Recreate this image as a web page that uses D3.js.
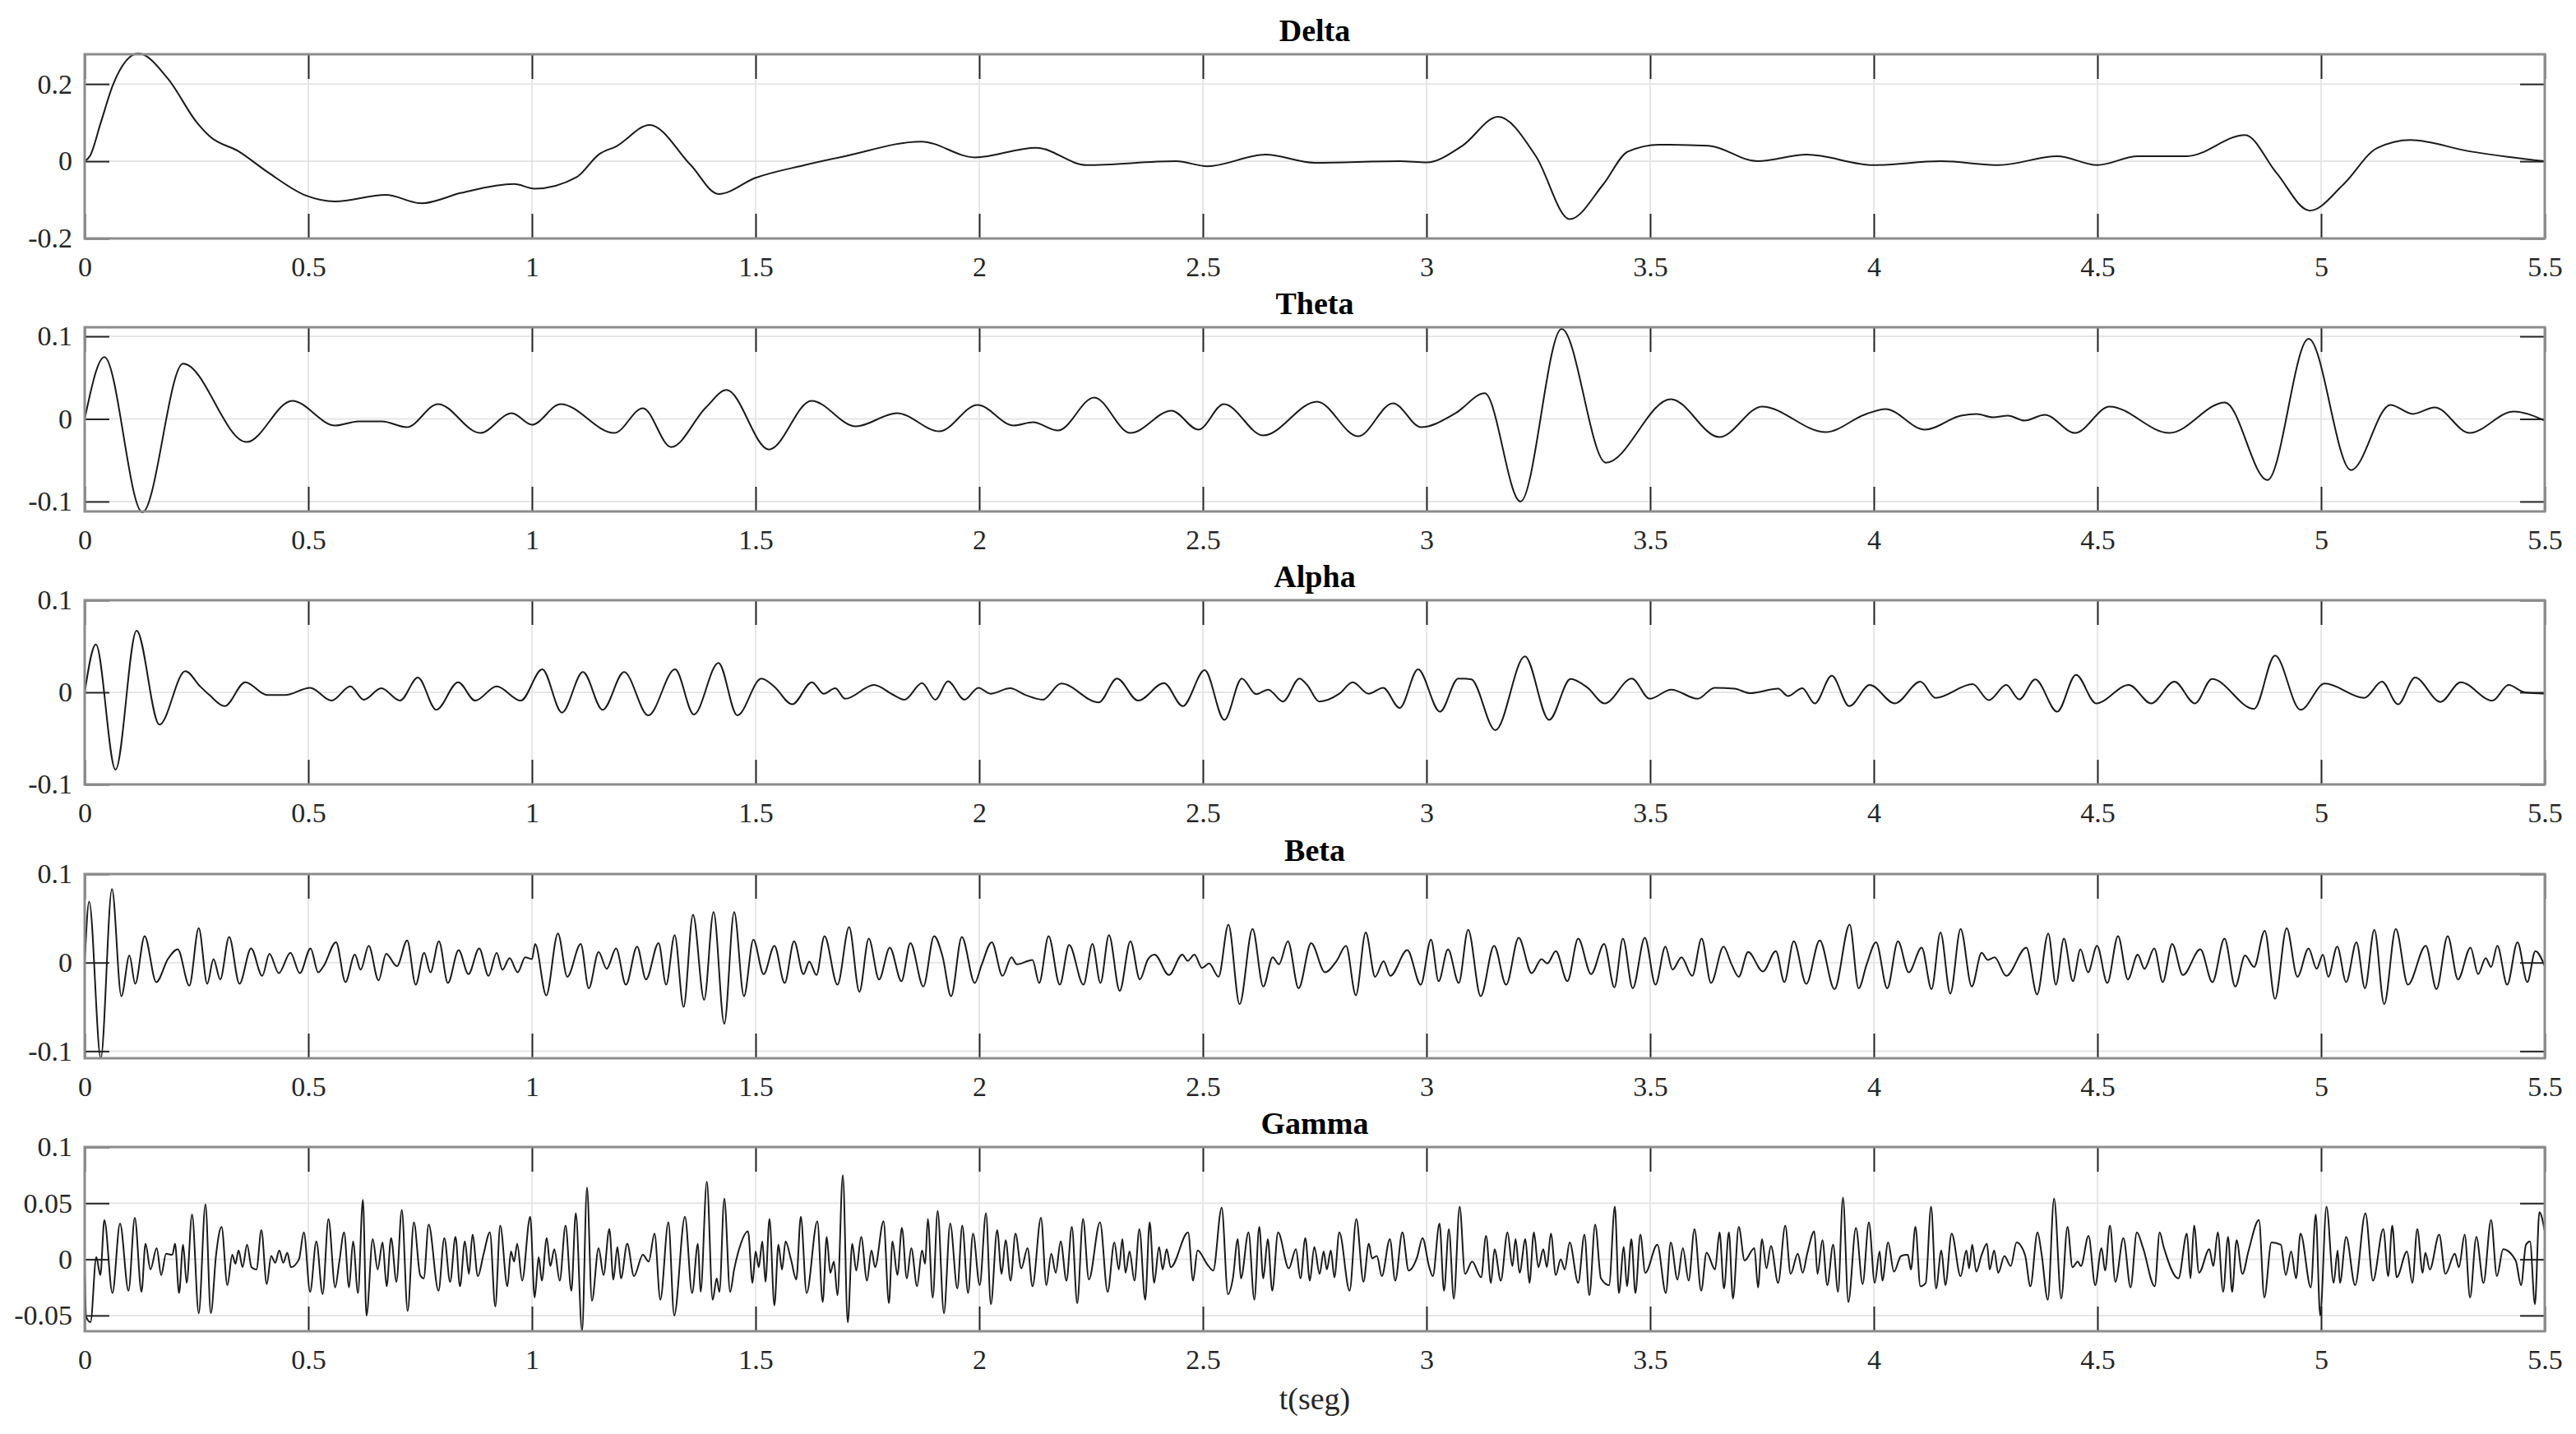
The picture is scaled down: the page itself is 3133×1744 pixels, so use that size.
<!DOCTYPE html>
<html>
<head>
<meta charset="utf-8">
<script src="https://cdn.jsdelivr.net/npm/d3@7"></script>
<style>
  body { margin: 0; background: #fff; }
  svg { display: block; }
  .tick text { font-family: "Liberation Serif", "Times New Roman", serif; font-size: 34px; fill: #262626; }
  .title { font-family: "Liberation Serif", "Times New Roman", serif; font-size: 38px; font-weight: bold; fill: #000; }
  .xlabel { font-family: "Liberation Serif", "Times New Roman", serif; font-size: 38px; fill: #262626; }
</style>
</head>
<body>
<div id="chart"></div>
<script>
// band names and axis limits
const bandNames = ['Delta', 'Theta', 'Alpha', 'Beta', 'Gamma'];
const xDomain = [0, 5.5];
const xTicks = [0, 0.5, 1, 1.5, 2, 2.5, 3, 3.5, 4, 4.5, 5, 5.5];
const yDomains = [[-0.2, 0.277], [-0.112, 0.111], [-0.1, 0.1], [-0.108, 0.1], [-0.064, 0.1]];
const yTicks = [[-0.2, 0, 0.2], [-0.1, 0, 0.1], [-0.1, 0, 0.1], [-0.1, 0, 0.1], [-0.05, 0, 0.05, 0.1]];

// [t (s), amplitude] at the turning points of each trace
const delta = [[0,0],[0.012,0.014],[0.036,0.1],[0.064,0.2],[0.12,0.279],[0.186,0.214],[0.251,0.1],[0.28,0.064],[0.345,0.025],[0.41,-0.029],[0.495,-0.089],[0.56,-0.104],[0.673,-0.087],[0.753,-0.109],[0.842,-0.082],[0.96,-0.059],[1.006,-0.071],[1.1,-0.041],[1.15,0.018],[1.189,0.039],[1.263,0.094],[1.355,-0.01],[1.417,-0.085],[1.5,-0.043],[1.61,-0.01],[1.7,0.013],[1.87,0.051],[1.99,0.01],[2.127,0.035],[2.24,-0.01],[2.44,0],[2.51,-0.013],[2.64,0.017],[2.75,-0.004],[2.94,0],[3.0,-0.003],[3.08,0.04],[3.16,0.115],[3.245,0.012],[3.32,-0.15],[3.395,-0.06],[3.45,0.025],[3.52,0.043],[3.63,0.04],[3.74,0],[3.85,0.017],[4.0,-0.01],[4.15,0],[4.28,-0.01],[4.41,0.013],[4.5,-0.01],[4.59,0.013],[4.70,0.013],[4.83,0.068],[4.90,-0.03],[4.975,-0.128],[5.05,-0.06],[5.125,0.034],[5.2,0.055],[5.33,0.026],[5.5,0]];

const theta = [[0,0],[0.044,0.075],[0.129,-0.113],[0.22,0.067],[0.362,-0.028],[0.464,0.022],[0.56,-0.008],[0.612,-0.003],[0.665,-0.003],[0.72,-0.01],[0.79,0.018],[0.884,-0.017],[0.955,0.007],[1.0,-0.007],[1.064,0.018],[1.184,-0.017],[1.248,0.013],[1.311,-0.034],[1.389,0.014],[1.435,0.035],[1.53,-0.037],[1.625,0.022],[1.724,-0.009],[1.816,0.007],[1.911,-0.015],[1.996,0.017],[2.077,-0.008],[2.12,-0.004],[2.176,-0.014],[2.257,0.026],[2.338,-0.017],[2.43,0.01],[2.49,-0.013],[2.547,0.018],[2.635,-0.02],[2.755,0.021],[2.847,-0.021],[2.925,0.019],[2.988,-0.01],[3.065,0.007],[3.13,0.031],[3.21,-0.1],[3.302,0.109],[3.401,-0.053],[3.546,0.024],[3.655,-0.022],[3.75,0.015],[3.892,-0.016],[3.983,0.006],[4.026,0.012],[4.114,-0.013],[4.195,0.004],[4.23,0.006],[4.266,0.002],[4.3,0.004],[4.337,-0.002],[4.382,0.005],[4.45,-0.017],[4.527,0.015],[4.661,-0.017],[4.785,0.02],[4.88,-0.074],[4.972,0.097],[5.067,-0.062],[5.155,0.017],[5.205,0.006],[5.254,0.014],[5.332,-0.017],[5.43,0.009],[5.5,-0.002]];

const alpha = [[0,0],[0.025,0.052],[0.069,-0.084],[0.116,0.067],[0.167,-0.035],[0.225,0.023],[0.258,0.0065],[0.279,-0.003],[0.313,-0.015],[0.359,0.011],[0.408,-0.003],[0.448,-0.003],[0.504,0.005],[0.552,-0.009],[0.594,0.0065],[0.624,-0.008],[0.663,0.0045],[0.705,-0.009],[0.745,0.016],[0.786,-0.019],[0.835,0.011],[0.873,-0.009],[0.921,0.0065],[0.975,-0.009],[1.023,0.025],[1.067,-0.022],[1.114,0.022],[1.158,-0.019],[1.206,0.022],[1.26,-0.025],[1.32,0.025],[1.362,-0.024],[1.417,0.032],[1.459,-0.025],[1.513,0.015],[1.541,0.0065],[1.582,-0.013],[1.626,0.011],[1.652,-0.0015],[1.678,0.0045],[1.7,-0.007],[1.765,0.008],[1.805,-0.002],[1.833,-0.008],[1.872,0.01],[1.902,-0.008],[1.93,0.012],[1.967,-0.008],[1.998,0.005],[2.025,-0.0015],[2.069,0.0045],[2.104,-0.003],[2.142,-0.008],[2.183,0.0095],[2.267,-0.011],[2.308,0.015],[2.355,-0.009],[2.413,0.01],[2.455,-0.015],[2.504,0.024],[2.548,-0.03],[2.587,0.015],[2.619,-0.002],[2.646,0.003],[2.679,-0.01],[2.716,0.015],[2.733,0.008],[2.76,-0.01],[2.805,-0.0015],[2.835,0.011],[2.87,-0.0015],[2.903,0.005],[2.94,-0.017],[2.981,0.025],[3.03,-0.021],[3.071,0.015],[3.1,0.014],[3.154,-0.041],[3.22,0.039],[3.274,-0.03],[3.322,0.0145],[3.36,0.005],[3.398,-0.012],[3.459,0.015],[3.499,-0.007],[3.547,0.003],[3.606,-0.007],[3.644,0.005],[3.688,0.004],[3.724,-0.001],[3.786,0.004],[3.808,-0.004],[3.84,0.0045],[3.868,-0.012],[3.906,0.018],[3.945,-0.015],[3.991,0.008],[4.047,-0.012],[4.104,0.0115],[4.138,-0.006],[4.221,0.009],[4.257,-0.0085],[4.296,0.008],[4.325,-0.0077],[4.361,0.014],[4.41,-0.021],[4.452,0.019],[4.497,-0.012],[4.57,0.008],[4.62,-0.012],[4.672,0.0115],[4.718,-0.012],[4.756,0.0145],[4.85,-0.018],[4.897,0.04],[4.954,-0.019],[5.008,0.0095],[5.097,-0.006],[5.136,0.0115],[5.172,-0.013],[5.21,0.016],[5.267,-0.0104],[5.312,0.011],[5.383,-0.009],[5.419,0.008],[5.455,0],[5.5,-0.0015]];

const beta = [[0,0],[0.01,0.069],[0.036,-0.108],[0.061,0.083],[0.082,-0.038],[0.1,0.008],[0.113,-0.024],[0.134,0.03],[0.16,-0.022],[0.186,0.004],[0.208,0.015],[0.234,-0.026],[0.255,0.039],[0.274,-0.024],[0.288,0.004],[0.303,-0.019],[0.323,0.029],[0.346,-0.024],[0.372,0.016],[0.397,-0.015],[0.413,0.01],[0.434,-0.012],[0.46,0.011],[0.481,-0.012],[0.505,0.016],[0.522,-0.011],[0.534,-0.004],[0.562,0.023],[0.583,-0.022],[0.604,0.009],[0.617,-0.008],[0.635,0.019],[0.657,-0.02],[0.674,0.01],[0.698,-0.004],[0.721,0.025],[0.74,-0.025],[0.759,0.011],[0.773,-0.011],[0.792,0.024],[0.812,-0.023],[0.836,0.014],[0.858,-0.013],[0.882,0.016],[0.903,-0.015],[0.921,0.011],[0.934,-0.008],[0.95,0.005],[0.968,-0.011],[0.985,0.006],[1.0,0.004],[1.007,0.021],[1.032,-0.037],[1.058,0.033],[1.079,-0.016],[1.109,0.021],[1.127,-0.029],[1.149,0.012],[1.167,-0.007],[1.188,0.016],[1.21,-0.025],[1.235,0.018],[1.255,-0.019],[1.283,0.022],[1.3,-0.025],[1.319,0.031],[1.339,-0.05],[1.36,0.054],[1.385,-0.042],[1.406,0.057],[1.43,-0.069],[1.452,0.057],[1.474,-0.038],[1.495,0.026],[1.518,-0.013],[1.542,0.019],[1.565,-0.023],[1.586,0.024],[1.607,-0.013],[1.62,0.001],[1.636,-0.014],[1.654,0.03],[1.683,-0.025],[1.709,0.04],[1.732,-0.033],[1.753,0.027],[1.776,-0.019],[1.8,0.017],[1.826,-0.021],[1.846,0.022],[1.875,-0.027],[1.899,0.03],[1.918,0.007],[1.937,-0.038],[1.961,0.029],[1.99,-0.023],[2.005,-0.003],[2.028,0.023],[2.052,-0.015],[2.072,0.006],[2.084,-0.002],[2.119,0.003],[2.134,-0.023],[2.155,0.03],[2.18,-0.025],[2.201,0.02],[2.233,-0.025],[2.253,0.021],[2.271,-0.023],[2.29,0.031],[2.314,-0.032],[2.338,0.024],[2.359,-0.019],[2.377,0.0035],[2.392,0.009],[2.424,-0.014],[2.454,0.009],[2.466,0.002],[2.481,0.009],[2.498,-0.006],[2.514,-0.001],[2.535,-0.016],[2.557,0.043],[2.582,-0.047],[2.611,0.038],[2.635,-0.027],[2.656,0.006],[2.67,-0.002],[2.69,0.024],[2.714,-0.029],[2.742,0.022],[2.773,-0.011],[2.799,0.002],[2.82,0.019],[2.842,-0.037],[2.864,0.034],[2.885,-0.016],[2.904,0.0015],[2.919,-0.015],[2.957,0.014],[2.987,-0.025],[3.01,0.026],[3.027,-0.021],[3.048,0.015],[3.072,-0.023],[3.093,0.037],[3.121,-0.038],[3.151,0.019],[3.178,-0.025],[3.206,0.028],[3.235,-0.012],[3.257,0.004],[3.27,-0.001],[3.289,0.013],[3.315,-0.021],[3.339,0.027],[3.368,-0.013],[3.397,0.021],[3.42,-0.028],[3.439,0.027],[3.461,-0.029],[3.488,0.028],[3.512,-0.025],[3.534,0.018],[3.55,-0.008],[3.57,0.006],[3.594,-0.015],[3.615,0.027],[3.636,-0.023],[3.664,0.018],[3.682,-0.002],[3.698,-0.016],[3.719,0.012],[3.752,-0.01],[3.781,0.013],[3.8,-0.022],[3.821,0.024],[3.849,-0.024],[3.879,0.025],[3.912,-0.03],[3.946,0.043],[3.966,-0.029],[3.984,-0.002],[4.005,0.023],[4.03,-0.029],[4.054,0.024],[4.078,-0.011],[4.107,0.017],[4.129,-0.03],[4.149,0.034],[4.171,-0.035],[4.194,0.038],[4.219,-0.027],[4.241,0.011],[4.255,0.003],[4.27,0.006],[4.296,-0.015],[4.341,0.017],[4.365,-0.036],[4.39,0.033],[4.407,-0.025],[4.425,0.027],[4.445,-0.021],[4.462,0.015],[4.479,-0.011],[4.499,0.019],[4.522,-0.023],[4.546,0.03],[4.568,-0.019],[4.59,0.009],[4.605,-0.007],[4.627,0.016],[4.646,-0.022],[4.667,0.021],[4.691,-0.014],[4.73,0.015],[4.757,-0.022],[4.784,0.027],[4.808,-0.027],[4.83,0.008],[4.85,-0.005],[4.874,0.036],[4.897,-0.041],[4.923,0.039],[4.947,-0.016],[4.972,0.016],[4.99,-0.007],[5.004,0.009],[5.016,-0.016],[5.036,0.018],[5.056,-0.022],[5.079,0.023],[5.098,-0.029],[5.119,0.037],[5.141,-0.047],[5.167,0.038],[5.194,-0.025],[5.234,0.019],[5.258,-0.03],[5.283,0.03],[5.306,-0.019],[5.334,0.017],[5.351,-0.013],[5.368,0.005],[5.38,-0.005],[5.394,0.019],[5.416,-0.025],[5.439,0.023],[5.461,-0.022],[5.479,0.013],[5.5,-0.004]];

const gamma = [[0,0],[0.003,-0.051],[0.013,-0.056],[0.026,0.002],[0.035,-0.014],[0.044,0.035],[0.062,-0.030],[0.079,0.032],[0.098,-0.028],[0.112,0.037],[0.127,-0.029],[0.136,0.014],[0.147,-0.009],[0.161,0.010],[0.171,-0.014],[0.182,0.005],[0.196,0.004],[0.202,0.014],[0.211,-0.030],[0.220,0.013],[0.228,-0.021],[0.240,0.040],[0.255,-0.048],[0.270,0.049],[0.282,-0.048],[0.294,0.005],[0.306,0.029],[0.319,-0.023],[0.330,0.004],[0.337,-0.004],[0.344,0.008],[0.353,-0.007],[0.363,0.013],[0.373,-0.007],[0.384,-0.009],[0.395,0.026],[0.407,-0.022],[0.417,0.003],[0.426,-0.003],[0.435,0.008],[0.444,-0.003],[0.453,0.006],[0.461,-0.007],[0.479,0.000],[0.490,0.024],[0.504,-0.029],[0.518,0.016],[0.532,-0.031],[0.545,0.036],[0.560,-0.025],[0.569,-0.003],[0.580,0.024],[0.591,-0.025],[0.600,0.016],[0.611,-0.030],[0.622,0.053],[0.630,-0.050],[0.644,0.018],[0.655,-0.009],[0.666,0.015],[0.675,-0.024],[0.685,0.019],[0.697,-0.020],[0.709,0.044],[0.722,-0.046],[0.736,0.033],[0.750,-0.014],[0.758,-0.017],[0.769,0.031],[0.791,-0.028],[0.804,0.019],[0.817,-0.020],[0.829,0.020],[0.839,-0.024],[0.850,0.016],[0.859,-0.013],[0.867,0.022],[0.879,-0.015],[0.892,0.005],[0.906,0.024],[0.918,-0.042],[0.929,0.030],[0.945,-0.024],[0.953,0.007],[0.960,-0.002],[0.967,0.014],[0.978,-0.019],[0.996,0.038],[1.006,-0.034],[1.015,0.002],[1.022,-0.019],[1.033,0.019],[1.041,-0.006],[1.050,0.009],[1.062,-0.019],[1.075,0.030],[1.088,-0.028],[1.098,0.041],[1.112,-0.064],[1.123,0.064],[1.134,-0.037],[1.149,0.010],[1.160,-0.014],[1.173,0.027],[1.182,-0.018],[1.191,0.011],[1.199,-0.017],[1.213,0.014],[1.228,-0.015],[1.248,0.004],[1.261,-0.002],[1.274,0.023],[1.287,-0.036],[1.305,0.033],[1.318,-0.050],[1.342,0.038],[1.358,-0.030],[1.371,0.014],[1.377,-0.029],[1.391,0.069],[1.404,-0.036],[1.413,-0.017],[1.419,-0.029],[1.430,0.054],[1.443,-0.029],[1.452,-0.009],[1.463,0.009],[1.483,0.025],[1.493,-0.021],[1.500,0.007],[1.507,-0.007],[1.515,0.016],[1.522,-0.020],[1.531,0.036],[1.542,-0.041],[1.551,0.013],[1.559,-0.009],[1.567,0.016],[1.579,0.000],[1.591,-0.018],[1.601,0.038],[1.614,-0.030],[1.638,0.034],[1.650,-0.038],[1.659,0.020],[1.667,-0.012],[1.675,-0.002],[1.683,-0.032],[1.695,0.075],[1.706,-0.056],[1.716,0.014],[1.725,-0.010],[1.736,0.020],[1.749,-0.019],[1.759,0.008],[1.767,-0.007],[1.786,0.034],[1.798,-0.039],[1.806,0.016],[1.817,-0.014],[1.827,0.028],[1.838,-0.017],[1.848,0.010],[1.861,-0.024],[1.872,0.008],[1.879,-0.004],[1.885,0.036],[1.896,-0.034],[1.907,0.043],[1.921,-0.048],[1.935,0.032],[1.951,-0.026],[1.962,0.030],[1.975,-0.030],[1.986,0.023],[2.001,-0.023],[2.015,0.041],[2.026,-0.040],[2.040,0.026],[2.050,-0.013],[2.059,0.017],[2.070,-0.019],[2.081,0.023],[2.094,-0.008],[2.108,0.010],[2.119,-0.024],[2.138,0.037],[2.150,-0.023],[2.161,0.005],[2.171,-0.012],[2.182,0.016],[2.195,-0.019],[2.207,0.029],[2.219,-0.039],[2.232,0.036],[2.245,-0.018],[2.270,0.033],[2.287,-0.029],[2.302,0.015],[2.312,-0.009],[2.320,0.018],[2.327,-0.012],[2.336,0.007],[2.347,-0.019],[2.358,0.027],[2.371,-0.036],[2.381,0.033],[2.391,-0.021],[2.402,0.011],[2.410,-0.009],[2.419,0.009],[2.428,-0.007],[2.467,0.024],[2.478,-0.019],[2.488,0.008],[2.509,-0.004],[2.523,-0.010],[2.542,0.046],[2.556,-0.031],[2.567,-0.017],[2.578,0.018],[2.585,-0.017],[2.602,0.024],[2.615,-0.036],[2.626,0.029],[2.635,-0.017],[2.645,0.018],[2.655,-0.028],[2.668,0.024],[2.692,-0.008],[2.708,0.009],[2.718,-0.017],[2.729,0.019],[2.739,-0.019],[2.749,0.011],[2.761,-0.013],[2.770,0.007],[2.777,-0.009],[2.786,0.008],[2.794,-0.016],[2.805,0.024],[2.828,-0.028],[2.843,0.036],[2.859,-0.020],[2.871,0.014],[2.878,0.001],[2.889,0.003],[2.900,-0.015],[2.918,0.018],[2.930,-0.019],[2.946,0.024],[2.960,-0.010],[2.979,0.002],[2.991,0.019],[3.006,-0.007],[3.014,-0.015],[3.029,0.032],[3.039,-0.028],[3.050,0.027],[3.061,-0.035],[3.074,0.047],[3.086,-0.013],[3.102,-0.002],[3.122,-0.016],[3.133,0.021],[3.144,-0.021],[3.152,0.009],[3.166,-0.019],[3.181,0.024],[3.192,-0.006],[3.199,0.018],[3.208,-0.012],[3.221,0.018],[3.230,-0.021],[3.240,0.024],[3.250,-0.007],[3.261,0.009],[3.269,-0.007],[3.278,0.023],[3.289,-0.014],[3.300,0.000],[3.309,-0.009],[3.320,0.015],[3.339,-0.021],[3.353,0.022],[3.364,-0.032],[3.377,0.031],[3.390,-0.017],[3.408,-0.023],[3.421,0.047],[3.430,-0.030],[3.441,0.011],[3.448,-0.024],[3.458,0.018],[3.467,-0.030],[3.478,0.022],[3.489,-0.012],[3.516,0.013],[3.535,-0.030],[3.546,0.015],[3.561,-0.018],[3.573,0.010],[3.586,-0.019],[3.599,0.027],[3.614,-0.028],[3.626,0.006],[3.645,-0.009],[3.655,0.024],[3.665,-0.026],[3.676,0.024],[3.685,-0.035],[3.698,0.029],[3.711,-0.001],[3.733,0.010],[3.741,-0.025],[3.750,0.018],[3.760,-0.008],[3.770,0.012],[3.786,-0.021],[3.802,0.030],[3.814,-0.013],[3.830,0.005],[3.841,-0.012],[3.851,0.005],[3.867,0.025],[3.874,-0.013],[3.885,0.017],[3.896,-0.023],[3.909,0.013],[3.920,-0.029],[3.931,0.055],[3.943,-0.038],[3.960,0.028],[3.975,-0.022],[3.989,0.033],[4.002,-0.021],[4.013,0.007],[4.019,-0.019],[4.032,0.015],[4.045,-0.011],[4.061,0.003],[4.076,0.004],[4.083,-0.009],[4.093,0.029],[4.104,-0.024],[4.116,-0.021],[4.128,0.047],[4.139,-0.026],[4.151,0.008],[4.160,-0.023],[4.174,0.023],[4.194,-0.015],[4.207,0.008],[4.213,-0.008],[4.220,0.013],[4.229,-0.011],[4.241,0.004],[4.253,0.014],[4.259,-0.009],[4.269,0.008],[4.278,-0.012],[4.292,0.003],[4.306,-0.006],[4.319,0.015],[4.338,0.004],[4.350,-0.024],[4.366,0.024],[4.375,0.005],[4.389,-0.036],[4.403,0.054],[4.419,-0.035],[4.433,0.029],[4.444,-0.007],[4.456,-0.002],[4.463,-0.006],[4.480,0.021],[4.495,-0.023],[4.509,0.010],[4.517,-0.010],[4.528,0.030],[4.540,-0.020],[4.558,0.019],[4.574,-0.025],[4.588,0.024],[4.602,0.010],[4.628,-0.024],[4.639,0.024],[4.648,0.011],[4.681,-0.017],[4.700,0.023],[4.708,-0.017],[4.716,0.030],[4.727,-0.012],[4.750,0.009],[4.759,-0.006],[4.769,0.024],[4.781,-0.029],[4.792,0.020],[4.801,-0.029],[4.811,0.017],[4.824,-0.013],[4.838,0.008],[4.861,0.035],[4.873,-0.034],[4.889,0.015],[4.910,0.013],[4.921,-0.014],[4.933,0.007],[4.944,-0.017],[4.954,0.023],[4.977,-0.025],[4.988,0.040],[4.998,-0.050],[5.012,0.047],[5.028,-0.021],[5.037,0.008],[5.042,-0.021],[5.056,0.020],[5.076,-0.023],[5.099,0.041],[5.116,-0.019],[5.139,0.027],[5.150,-0.015],[5.159,0.030],[5.169,-0.016],[5.192,0.007],[5.204,-0.021],[5.215,0.027],[5.227,-0.012],[5.233,0.006],[5.243,-0.009],[5.264,0.022],[5.278,-0.013],[5.299,0.005],[5.308,-0.007],[5.321,0.022],[5.333,-0.034],[5.347,0.020],[5.363,-0.021],[5.380,0.035],[5.393,-0.015],[5.407,0.009],[5.435,-0.001],[5.447,-0.023],[5.458,0.013],[5.467,0.016],[5.478,-0.040],[5.488,0.042],[5.5,0.025]];

const series = [delta, theta, alpha, beta, gamma];

// layout
const config = {
  width: 3133,
  height: 1744,
  left: 103,
  plotWidth: 2992,
  tops: [66, 398, 730, 1063, 1395],
  plotHeight: 224,
  tickLen: 30
};

const svg = d3.select('#chart').append('svg')
    .attr('width', config.width)
    .attr('height', config.height);

const x = d3.scaleLinear().domain(xDomain).range([0, config.plotWidth]);
const fmt = d => String(d);

bandNames.forEach((name, i) => {
  const y = d3.scaleLinear().domain(yDomains[i]).range([config.plotHeight, 0]);
  const g = svg.append('g').attr('transform', `translate(${config.left},${config.tops[i]})`);

  // grid
  g.append('g').selectAll('line').data(xTicks).join('line')
      .attr('x1', d => x(d)).attr('x2', d => x(d))
      .attr('y1', 0).attr('y2', config.plotHeight)
      .attr('stroke', '#e6e6e6').attr('stroke-width', 2);
  g.append('g').selectAll('line').data(yTicks[i]).join('line')
      .attr('x1', 0).attr('x2', config.plotWidth)
      .attr('y1', d => y(d)).attr('y2', d => y(d))
      .attr('stroke', '#e6e6e6').attr('stroke-width', 2);

  // axes with inward ticks on all four sides
  const axes = [
    g.append('g').attr('transform', `translate(0,${config.plotHeight})`)
      .call(d3.axisBottom(x).tickValues(xTicks).tickFormat(fmt).tickSizeInner(-config.tickLen).tickSizeOuter(0).tickPadding(22)),
    g.append('g')
      .call(d3.axisTop(x).tickValues(xTicks).tickFormat('').tickSizeInner(-config.tickLen).tickSizeOuter(0)),
    g.append('g')
      .call(d3.axisLeft(y).tickValues(yTicks[i]).tickFormat(fmt).tickSizeInner(-config.tickLen).tickSizeOuter(0).tickPadding(15)),
    g.append('g').attr('transform', `translate(${config.plotWidth},0)`)
      .call(d3.axisRight(y).tickValues(yTicks[i]).tickFormat('').tickSizeInner(-config.tickLen).tickSizeOuter(0))
  ];
  axes.forEach(a => {
    a.select('.domain').remove();
    a.selectAll('.tick line').attr('stroke', '#262626').attr('stroke-width', 2);
  });

  // signal
  const line = d3.line()
      .x(d => x(d[0]))
      .y(d => y(d[1]))
      .curve(d3.curveMonotoneX);
  g.append('path')
      .datum(series[i])
      .attr('d', line)
      .attr('fill', 'none')
      .attr('stroke', '#1a1a1a')
      .attr('stroke-width', 2);

  // box
  g.append('rect')
      .attr('width', config.plotWidth)
      .attr('height', config.plotHeight)
      .attr('fill', 'none')
      .attr('stroke', '#8c8c8c')
      .attr('stroke-width', 3);

  // title
  g.append('text')
      .attr('class', 'title')
      .attr('x', config.plotWidth / 2)
      .attr('y', -16)
      .attr('text-anchor', 'middle')
      .text(name);
});

svg.append('text')
    .attr('class', 'xlabel')
    .attr('x', config.left + config.plotWidth / 2)
    .attr('y', 1714)
    .attr('text-anchor', 'middle')
    .text('t(seg)');
</script>
</body>
</html>
